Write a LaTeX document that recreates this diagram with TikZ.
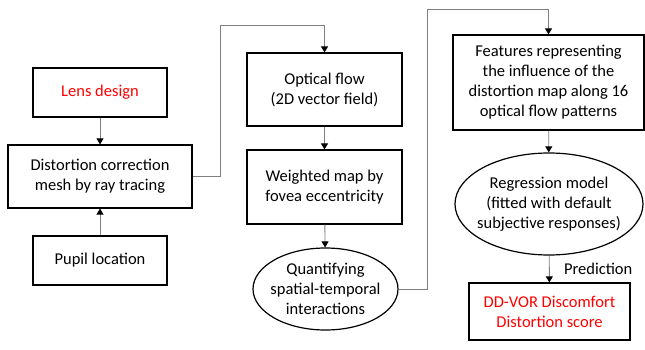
\documentclass[tikz,border=0pt]{standalone}
\usepackage{fontspec}
\setmainfont{Carlito}
\usepackage{xcolor}
\usetikzlibrary{arrows.meta, shapes.geometric, positioning}

\tikzset{
    box/.style={draw=black, line width=1.2pt, align=center, inner sep=0pt},
    oval/.style={ellipse, draw=black, line width=1.2pt, align=center, inner sep=-10pt},
    flow/.style={draw=gray, line width=0.9pt, -{Triangle[black, length=6pt, width=7pt]}},
}

\begin{document}
\begin{tikzpicture}[x=1pt, y=-1pt, font=\fontsize{16.5}{20}\selectfont]
    \useasboundingbox (0, 0) rectangle (645, 350);
    % left column
    \node[box, minimum width=134pt, minimum height=49pt, text=red] (lens) at (100, 92.5) {Lens design};
    \node[box, minimum width=184pt, minimum height=63pt] (mesh) at (100, 176.5) {Distortion correction\\mesh by ray tracing};
    \node[box, minimum width=134pt, minimum height=49pt] (pupil) at (100, 260.5) {Pupil location};
    % middle column
    \node[box, minimum width=155pt, minimum height=73pt] (optflow) at (324.5, 89.5) {Optical flow\\(2D vector field)};
    \node[box, minimum width=155pt, minimum height=74pt] (weight) at (324.5, 187) {Weighted map by\\fovea eccentricity};
    \node[oval, minimum width=145pt, minimum height=82pt] (quant) at (325.5, 289) {Quantifying\\spatial-temporal\\interactions};
    % right column
    \node[box, minimum width=191pt, minimum height=95pt] (feat) at (548.5, 82.5) {Features representing\\the influence of the\\distortion map along 16\\optical flow patterns};
    \node[oval, minimum width=188pt, minimum height=102pt] (regr) at (549, 204) {Regression model\\(fitted with default\\subjective responses)};
    \node[box, minimum width=161pt, minimum height=57pt, text=red] (score) at (549.5, 311.5) {DD-VOR Discomfort\\Distortion score};
    \coordinate (up1) at (220, 25);
    \coordinate (up2) at (427, 9);
    \draw[flow] (lens) -- (mesh);
    \draw[flow] (pupil) -- (mesh);
    \draw[flow] (mesh.east) -| (up1) -| (optflow.north);
    \draw[flow] (optflow) -- (weight);
    \draw[flow] (weight) -- (quant);
    \draw[flow] (quant.east) -| (up2) -| (feat.north);
    \draw[flow] (feat) -- (regr);
    \draw[flow] (regr) -- node[right=11pt] (pred) {Prediction} (score);
\end{tikzpicture}
\end{document}
